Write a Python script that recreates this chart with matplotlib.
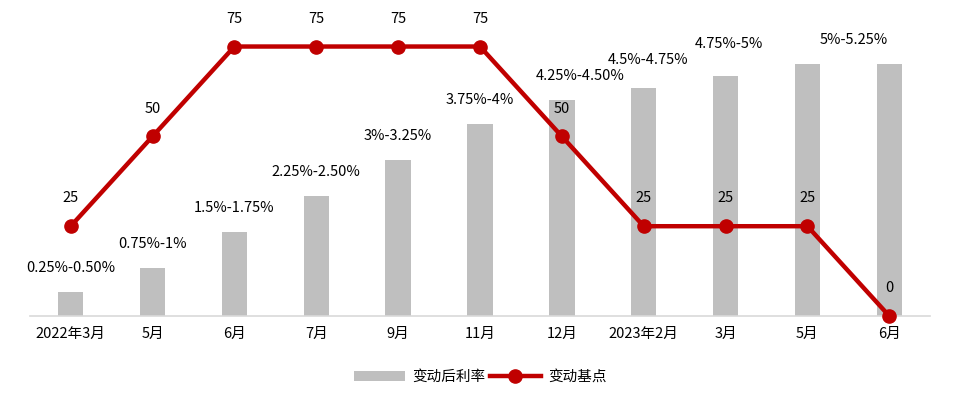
import matplotlib
matplotlib.use("Agg")
import matplotlib.pyplot as plt
from matplotlib.patches import Patch
from matplotlib.lines import Line2D

plt.rcParams['font.family'] = ['Noto Sans CJK SC', 'DejaVu Sans']

categories = ["2022年3月", "5月", "6月", "7月", "9月", "11月", "12月", "2023年2月", "3月", "5月", "6月"]
rate_upper = [0.50, 1.00, 1.75, 2.50, 3.25, 4.00, 4.50, 4.75, 5.00, 5.25, 5.25]
rate_labels = ["0.25%-0.50%", "0.75%-1%", "1.5%-1.75%", "2.25%-2.50%", "3%-3.25%",
               "3.75%-4%", "4.25%-4.50%", "4.5%-4.75%", "4.75%-5%", "5%-5.25%", ""]
bp_change = [25, 50, 75, 75, 75, 75, 50, 25, 25, 25, 0]

# label placement tweaks (x shift in category units, y offset in points)
label_dx = [0, 0, 0, 0, 0, 0, 0.22, 0.05, 0.04, 0.57, 0]
label_dy = [17, 17, 17, 17, 17, 17, 17, 20, 23, 17, 17]

fig = plt.figure(figsize=(9.6, 4.11), dpi=100)
ax = fig.add_axes([0.031, 0.231, 0.938, 0.745])
x = list(range(len(categories)))

bar_color = "#BFBFBF"
line_color = "#C00000"

ax.bar(x, rate_upper, width=0.31, color=bar_color, zorder=1)
ax.set_xlim(-0.5, 10.5)
ax.set_ylim(0, 6.375)
for i, (v, lab) in enumerate(zip(rate_upper, rate_labels)):
    if lab:
        ax.annotate(lab, (i + label_dx[i], v), xytext=(0, label_dy[i]), textcoords="offset points",
                    ha="center", va="center", fontsize=10.5, color="#000000")

ax2 = ax.twinx()
ax2.plot(x, bp_change, color=line_color, lw=3.2, marker="o", markersize=9.5, zorder=3,
         solid_capstyle="round", clip_on=False)
ax2.set_ylim(0, 85.2)
for i, v in enumerate(bp_change):
    ax2.annotate(str(v), (i, v), xytext=(0, 20), textcoords="offset points",
                 ha="center", va="center", fontsize=10.5, color="#000000")

for a in (ax, ax2):
    for s in ["top", "right", "left"]:
        a.spines[s].set_visible(False)
    a.set_yticks([])
ax2.spines["bottom"].set_visible(False)
ax.spines["bottom"].set_color("#D9D9D9")
ax.spines["bottom"].set_linewidth(1.2)
ax.set_xticks(x)
ax.set_xticklabels(categories, fontsize=10.5)
ax.tick_params(axis="x", length=0, pad=8)
ax2.set_zorder(ax.get_zorder() + 1)
ax2.patch.set_visible(False)
for sp in ax2.spines.values():
    sp.set_visible(False)

handles = [Patch(facecolor=bar_color, edgecolor="none", label="变动后利率"),
           Line2D([0], [0], color=line_color, lw=3.2, marker="o", markersize=9.5, label="变动基点")]
fig.legend(handles=handles, loc="center", bbox_to_anchor=(0.5, 0.083), ncol=2, frameon=False,
           fontsize=10.5, handlelength=3.5, columnspacing=0.3, handletextpad=0.5)

fig.savefig("out.png", dpi=100)
